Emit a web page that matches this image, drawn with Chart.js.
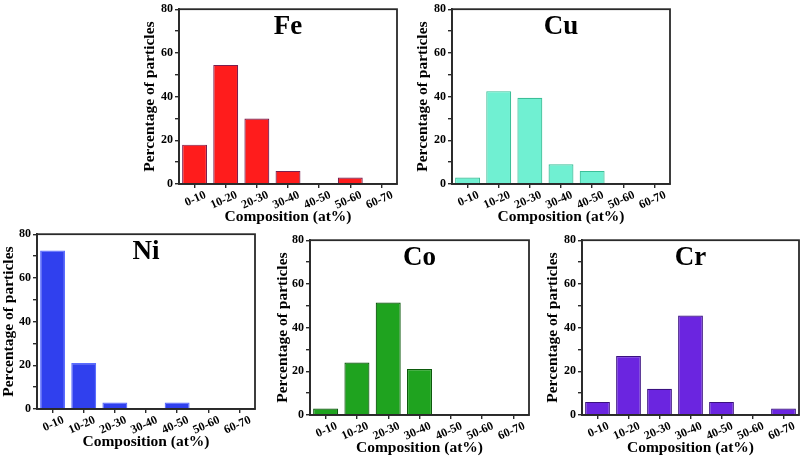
<!DOCTYPE html>
<html><head><meta charset="utf-8">
<script src="https://cdn.jsdelivr.net/npm/chart.js@4/dist/chart.umd.min.js"></script>
<style>
html,body{margin:0;padding:0;background:#fff;width:803px;height:457px;overflow:hidden;position:relative}
canvas{position:absolute;display:block}
</style></head><body>
<canvas id="cFe"></canvas>
<canvas id="cCu"></canvas>
<canvas id="cNi"></canvas>
<canvas id="cCo"></canvas>
<canvas id="cCr"></canvas>
<script>
// ---- data ----
const categories = ['0-10', '10-20', '20-30', '30-40', '40-50', '50-60', '60-70'];
const feValues = [18, 54.5, 30, 6, 0, 3, 0];
const cuValues = [3, 42.5, 39.5, 9, 6, 0, 0];
const niValues = [72.5, 21, 3, 0, 3, 0, 0];
const coValues = [3, 24, 51.5, 21, 0, 0, 0];
const crValues = [6, 27, 12, 45.5, 6, 0, 3];
const yTickLabels = [0, 20, 40, 60, 80];
const xAxisTitle = 'Composition (at%)';
const yAxisTitle = 'Percentage of particles';

// ---- styles / layout ----
const SERIF = '"Liberation Serif", "DejaVu Serif", serif';
const AXIS = '#2a2a2a';
const panels = [
  {id: 'cFe', name: 'Fe', values: feValues, fill: '#ff1c1c', border: '#7a2050', L: 138, T: 0, W: 262, H: 230, yW: 41, pr: 3},
  {id: 'cCu', name: 'Cu', values: cuValues, fill: '#70f0d2', border: '#3cbf98', L: 411, T: 0, W: 262, H: 230, yW: 41, pr: 3},
  {id: 'cNi', name: 'Ni', values: niValues, fill: '#3040ee', border: '#5a6cff', L: -3, T: 225, W: 261, H: 230, yW: 40, pr: 3},
  {id: 'cCo', name: 'Co', values: coValues, fill: '#1fa31f', border: '#0c5a0c', L: 271, T: 231, W: 261, H: 230, yW: 39, pr: 3},
  {id: 'cCr', name: 'Cr', values: crValues, fill: '#6b25e0', border: '#3a1080', L: 541, T: 231, W: 261, H: 230, yW: 41, pr: 3}
];

const framePlugin = {
  id: 'frame',
  afterDraw(chart, args, opts) {
    const {ctx, chartArea: a} = chart;
    ctx.save();
    ctx.strokeStyle = AXIS;
    ctx.lineWidth = 1.8;
    ctx.strokeRect(a.left, a.top, a.right - a.left, a.bottom - a.top);
    ctx.fillStyle = '#000';
    ctx.font = 'bold 27px ' + SERIF;
    ctx.textAlign = 'center';
    ctx.textBaseline = 'middle';
    ctx.fillText(opts.text, (a.left + a.right) / 2, a.top + 18);
    ctx.restore();
  }
};

panels.forEach(p => {
  const cv = document.getElementById(p.id);
  cv.width = p.W; cv.height = p.H;
  cv.style.left = p.L + 'px'; cv.style.top = p.T + 'px';
  cv.style.width = p.W + 'px'; cv.style.height = p.H + 'px';
  new Chart(cv, {
    type: 'bar',
    data: {
      labels: categories,
      datasets: [{
        data: p.values,
        backgroundColor: p.fill,
        borderColor: p.border,
        borderWidth: 1.2,
        barPercentage: 0.8,
        categoryPercentage: 1.0
      }]
    },
    plugins: [framePlugin],
    options: {
      responsive: false,
      animation: false,
      devicePixelRatio: 1,
      layout: {padding: {top: 7, right: p.pr, left: 0, bottom: 0}},
      plugins: {
        legend: {display: false},
        tooltip: {enabled: false},
        frame: {text: p.name}
      },
      scales: {
        x: {
          afterFit: s => { s.height = 46; },
          grid: {display: true, drawOnChartArea: false, offset: false, tickLength: 4, color: AXIS, lineWidth: 1.4},
          border: {display: true, color: AXIS, width: 1.8},
          ticks: {
            autoSkip: false, minRotation: 24, maxRotation: 24, padding: 0, labelOffset: 11,
            color: '#000', font: {family: SERIF, size: 12, weight: 'bold'}
          },
          title: {display: true, text: xAxisTitle, color: '#000', padding: {top: 2, bottom: 4},
                  font: {family: SERIF, size: 15.5, weight: 'bold'}}
        },
        y: {
          min: 0, max: 80,
          afterFit: s => { s.width = p.yW; },
          grid: {display: true, drawOnChartArea: false, tickLength: 4, color: AXIS, lineWidth: 1.4},
          border: {display: true, color: AXIS, width: 1.8},
          ticks: {
            stepSize: 10, autoSkip: false, padding: 2,
            callback: v => yTickLabels.includes(v) ? String(v) : '',
            color: '#000', font: {family: SERIF, size: 12, weight: 'bold'}
          },
          title: {display: true, text: yAxisTitle, color: '#000', padding: {top: 3, bottom: 2},
                  font: {family: SERIF, size: 15.5, weight: 'bold'}}
        }
      }
    }
  });
});
</script>
</body></html>
